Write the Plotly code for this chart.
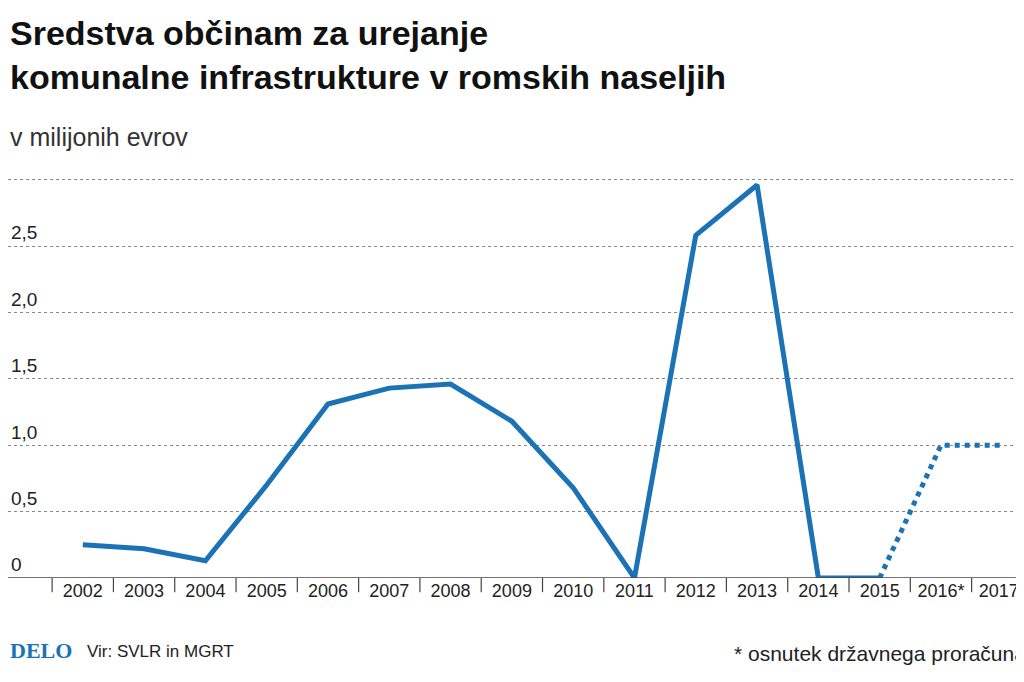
import plotly.graph_objects as go

years = ["2002","2003","2004","2005","2006","2007","2008","2009","2010","2011","2012","2013","2014","2015","2016*","2017*"]
values = [0.25,0.22,0.13,0.70,1.31,1.43,1.46,1.18,0.68,0.0,2.58,2.96,0.0,0.0,1.0,1.0]
ytick_vals = [0,0.5,1.0,1.5,2.0,2.5]
ytick_text = ["0","0,5","1,0","1,5","2,0","2,5"]

FONT = "Liberation Sans Narrow, Liberation Sans, Arial"
BLUE = "#1b72b5"
idx = list(range(len(years)))

fig = go.Figure()
fig.add_trace(go.Scatter(x=idx[:14], y=values[:14], mode="lines",
                         line=dict(color=BLUE, width=5), hoverinfo="skip"))
fig.add_trace(go.Scatter(x=idx[13:], y=values[13:], mode="lines",
                         line=dict(color=BLUE, width=5, dash="dot"), hoverinfo="skip"))

fig.update_layout(
    width=1024, height=682, showlegend=False,
    paper_bgcolor="white", plot_bgcolor="white",
    margin=dict(l=0, r=4, t=165, b=112, pad=0),
    font=dict(family=FONT, color="#222"),
    xaxis=dict(range=[-1.22, 15.42], tickmode="array",
               tickvals=idx, ticktext=years, showgrid=False,
               tickfont=dict(size=18, color="#222"), showline=False,
               zeroline=False),
    yaxis=dict(range=[0, 3.05], tickmode="array",
               tickvals=ytick_vals + [3.0], ticktext=ytick_text + [""],
               ticklabelposition="inside top", ticks="",
               tickfont=dict(size=19, color="#222"),
               showgrid=True, gridcolor="#888", griddash="dot", gridwidth=1,
               zeroline=False, showline=False),
)
fig.add_shape(type="line", xref="paper", yref="y", x0=0, x1=1, y0=0, y1=0,
              line=dict(color="#444", width=1.5))
for i in range(-1, 16):
    fig.add_shape(type="line", xref="x", yref="paper", x0=i + 0.5, x1=i + 0.5,
                  y0=0, y1=-0.035, line=dict(color="#444", width=1.2))

fig.add_annotation(text="<b>Sredstva občinam za urejanje<br>komunalne infrastrukture v romskih naseljih</b>",
                   xref="paper", yref="paper", x=0, y=1.0, xanchor="left", yanchor="bottom",
                   yshift=75, align="left", showarrow=False,
                   font=dict(size=34, family=FONT, color="#111"))
fig.add_annotation(text="v milijonih evrov", xref="paper", yref="paper", x=0, y=1.0,
                   xanchor="left", yanchor="bottom", yshift=20, showarrow=False,
                   font=dict(size=25, family=FONT, color="#333"))
fig.add_annotation(text="<b>DELO</b>", xref="paper", yref="paper", x=0, y=0,
                   xanchor="left", yanchor="top", yshift=-58, showarrow=False,
                   font=dict(size=22, family="Liberation Serif, serif", color="#1b72b5"))
fig.add_annotation(text="Vir: SVLR in MGRT", xref="paper", yref="paper", x=0.075, y=0,
                   xanchor="left", yanchor="top", yshift=-62, showarrow=False,
                   font=dict(size=17, family=FONT, color="#222"))
fig.add_annotation(text="* osnutek državnega proračuna", xref="paper", yref="paper", x=1.0, y=0,
                   xanchor="right", yanchor="top", yshift=-62, showarrow=False,
                   font=dict(size=21, family=FONT, color="#222"))

fig.write_html("out.html")
